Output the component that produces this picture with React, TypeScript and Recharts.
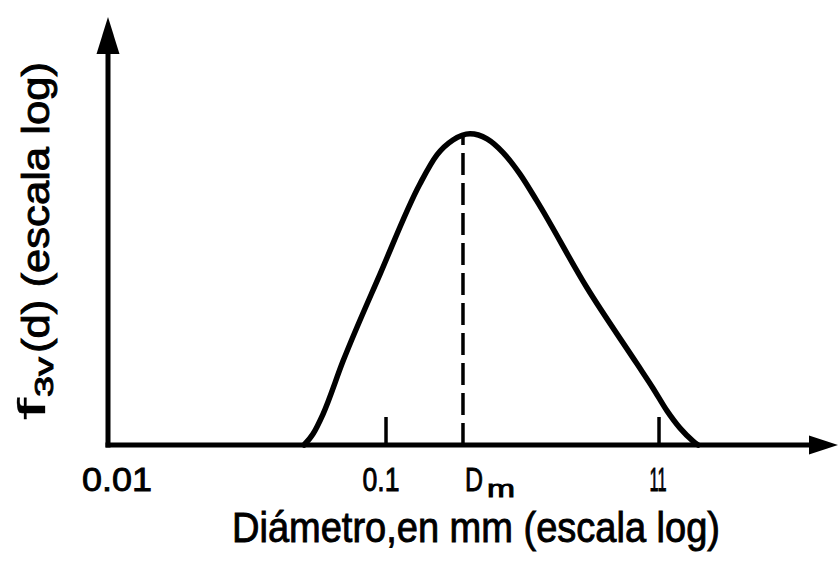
import React from "react";
import { LineChart, Line, XAxis, YAxis, ReferenceLine } from "recharts";

// Particle diameter (mm, log axis) and volume frequency f3v(d)
const DIAMETERS = [
  0.0501, 0.054, 0.0588, 0.0696, 0.0951, 0.1331, 0.1537, 0.1759, 0.2031, 0.2344,
  0.2684, 0.3096, 0.3573, 0.5447, 0.8306, 0.9506, 1.07, 1.194, 1.332, 1.39,
];
const FREQUENCIES = [
  0, 2.8, 7.9, 21.4, 43.6, 66.6, 74.0, 77.8, 79.4, 78.1,
  74.6, 69.1, 62.2, 40.1, 20.7, 14.5, 8.7, 4.3, 1.0, 0,
];

// mean diameter Dm and the height of the curve there
const DM = 0.1914;
const DM_PEAK = 79;

const TICK_VALUES = [0.01, 0.1, DM, 1];
const TICK_LABELS = ["0.01", "0.1", "Dm", "11"];
// ticks that get a short mark above the axis
const MARKED_TICKS = [0.1, 1];

const X_DOMAIN = [0.009587, 3.573];
const Y_DOMAIN = [0, 100];

const FONT = "'Liberation Sans', Arial, sans-serif";
const INK = "#000";

const data = DIAMETERS.map((d, i) => ({ d, f: FREQUENCIES[i] }));

const textStyle = {
  fontFamily: FONT,
  fill: INK,
  stroke: INK,
  strokeWidth: 0.9,
};

function DiameterTick(props: any) {
  const { x, y, payload } = props;
  const i = TICK_VALUES.indexOf(payload.value);
  const label = TICK_LABELS[i];
  const mark = MARKED_TICKS.includes(payload.value);

  if (label === "Dm") {
    return (
      <g>
        <text x={x + 2} y={y + 46} fontSize={33} textLength={18} lengthAdjust="spacingAndGlyphs" style={textStyle}>
          D
        </text>
        <text x={x + 24} y={y + 52} fontSize={24} textLength={28} lengthAdjust="spacingAndGlyphs" style={textStyle}>
          m
        </text>
      </g>
    );
  }

  const widths: Record<string, number> = { "0.01": 70, "0.1": 37, "11": 17 };
  const shift: Record<string, number> = { "0.01": 4, "0.1": -5, "11": -1 };
  const w = widths[label];
  return (
    <g>
      {mark && <line x1={x} x2={x} y1={y} y2={y - 28} stroke={INK} strokeWidth={3.5} />}
      <text
        x={x + shift[label] - w / 2}
        y={y + 46}
        fontSize={34}
        textLength={w}
        lengthAdjust="spacingAndGlyphs"
        style={textStyle}
      >
        {label}
      </text>
    </g>
  );
}

export default function App() {
  return (
    <div style={{ position: "absolute", left: 0, top: 0, background: "#fff" }}>
      <LineChart width={839} height={568} data={data} margin={{ top: 53, right: 29, left: 107, bottom: 0 }}>
        <defs>
          <marker id="arrow-y" markerUnits="userSpaceOnUse" markerWidth={40} markerHeight={26} refX={1} refY={12} orient="auto-start-reverse">
            <path d="M0,0.5 L37,12 L0,23.5 Z" fill={INK} />
          </marker>
          <marker id="arrow-x" markerUnits="userSpaceOnUse" markerWidth={32} markerHeight={22} refX={1} refY={10} orient="auto">
            <path d="M0,0.5 L29,10 L0,19.5 Z" fill={INK} />
          </marker>
        </defs>
        <XAxis
          dataKey="d"
          type="number"
          scale="log"
          domain={X_DOMAIN}
          allowDataOverflow
          ticks={TICK_VALUES}
          interval={0}
          tick={<DiameterTick />}
          tickLine={false}
          tickSize={0}
          tickMargin={0}
          height={123}
          axisLine={{ stroke: INK, strokeWidth: 5, strokeLinecap: "square", markerEnd: "url(#arrow-x)" }}
        />
        <YAxis
          type="number"
          domain={Y_DOMAIN}
          tick={false}
          tickLine={false}
          width={1}
          axisLine={{ stroke: INK, strokeWidth: 5, strokeLinecap: "square", markerStart: "url(#arrow-y)" }}
        />
        <ReferenceLine
          segment={[{ x: DM, y: 0 }, { x: DM, y: DM_PEAK }]}
          stroke={INK}
          strokeWidth={3.5}
          strokeDasharray="22 8"
        />
        <Line
          dataKey="f"
          type="monotone"
          stroke={INK}
          strokeWidth={5.5}
          strokeLinejoin="round"
          strokeLinecap="round"
          dot={false}
          isAnimationActive={false}
        />
        {/* axis titles */}
        <text x={232} y={542} fontSize={42} textLength={488} lengthAdjust="spacingAndGlyphs" style={textStyle}>
          Diámetro,en mm (escala log)
        </text>
        <g style={textStyle}>
          <text transform="translate(45,420) rotate(-90)" fontSize={38} textLength={22} lengthAdjust="spacingAndGlyphs" strokeWidth={0.3}>
            f
          </text>
          <text transform="translate(53,397) rotate(-90)" fontSize={26} textLength={40} lengthAdjust="spacingAndGlyphs">
            3v
          </text>
          <text transform="translate(49,353) rotate(-90)" fontSize={38} textLength={291} lengthAdjust="spacingAndGlyphs">
            (d) (escala log)
          </text>
        </g>
      </LineChart>
    </div>
  );
}
